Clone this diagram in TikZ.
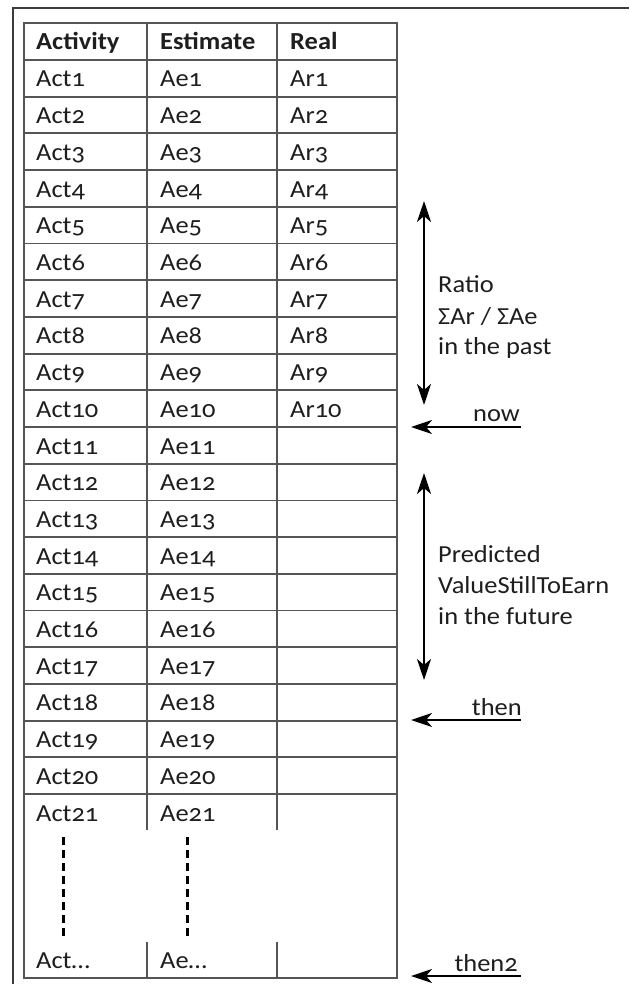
\documentclass[tikz,border=0pt]{standalone}
\usepackage{fontspec}
\setmainfont{Carlito}[Numbers=OldStyle, FakeStretch=1.08]
\usetikzlibrary{arrows.meta}
\definecolor{framegray}{HTML}{3C3C3C}
\definecolor{gridgray}{HTML}{555555}
\definecolor{textgray}{HTML}{1E1E1E}
\newcommand{\tabfont}{\fontsize{24.5}{30}\selectfont}
\tikzset{
  cell/.style={anchor=base west, inner sep=0pt, text=textgray, font=\tabfont},
  headcell/.style={cell, font=\tabfont\bfseries},
  note/.style={anchor=base west, inner sep=0pt, text=textgray, font=\tabfont, align=left},
  arrlabel/.style={anchor=base east, inner sep=0pt, text=textgray, font=\tabfont},
  gridline/.style={draw=gridgray, line width=1.8pt},
  framelines/.style={draw=framegray, line width=2.2pt},
  bigarrow/.style={draw=black, line width=2.6pt, -{Stealth[length=21pt,width=14pt,inset=6pt]}},
  dblarrow/.style={draw=black, line width=2.6pt, {Stealth[length=21pt,width=14pt,inset=6pt]}-{Stealth[length=21pt,width=14pt,inset=6pt]}},
  dotline/.style={draw=black, line width=3pt, dash pattern=on 8pt off 5pt}
}
\begin{document}
\begin{tikzpicture}[x=1pt,y=-1pt]
\useasboundingbox (0,0) rectangle (629,984);
\fill[white] (0,0) rectangle (629,984);
% outer frame (top and left edges visible)
\draw[framelines] (629,8) -- (13,8) -- (13,984);
% table grid
\draw[gridline] (24,23) rectangle (397,978);
\draw[gridline] (24,60) -- (397,60);
\foreach \k in {1,...,20} {
  \draw[gridline] (24,{60+\k*36.7}) -- (397,{60+\k*36.7});
}
\foreach \x in {147,277} {
  \draw[gridline] (\x,23) -- (\x,830);
  \draw[gridline] (\x,942) -- (\x,978);
}
% header
\node[headcell] (hA) at (36,50) {Activity};
\node[headcell] (hE) at (160,50) {Estimate};
\node[headcell] (hR) at (290,50) {Real};
% rows
\foreach \k in {1,...,21} {
  \node[cell] (act\k) at (36,{60+(\k-1)*36.7+27}) {Act\k};
  \node[cell] (ae\k) at (160,{60+(\k-1)*36.7+27}) {Ae\k};
}
\foreach \k in {1,...,10} {
  \node[cell] (ar\k) at (290,{60+(\k-1)*36.7+27}) {Ar\k};
}
\node[cell] (actdots) at (36,968) {Act…};
\node[cell] (aedots) at (160,968) {Ae…};
% dashed continuation
\coordinate (d1a) at (63,837); \coordinate (d1b) at (63,938);
\coordinate (d2a) at (187,837); \coordinate (d2b) at (187,938);
\draw[dotline] (d1a) -- (d1b);
\draw[dotline] (d2a) -- (d2b);
% range arrows
\coordinate (p1) at (424,201); \coordinate (p2) at (424,405);
\draw[dblarrow] (p1) -- (p2);
\coordinate (f1) at (424,473); \coordinate (f2) at (424,680);
\draw[dblarrow] (f1) -- (f2);
\node[note] (past1) at (438,292) {Ratio};
\node[note] (past2) at (438,324) {ΣAr / ΣAe};
\node[note] (past3) at (438,354) {in the past};
\node[note] (fut1) at (438,562) {Predicted};
\node[note] (fut2) at (438,593) {ValueStillToEarn};
\node[note] (fut3) at (438,624) {in the future};
% pointer arrows
\coordinate (nowS) at (521,427); \coordinate (nowE) at (411,427);
\draw[bigarrow] (nowS) -- (nowE);
\node[arrlabel] (now) at (520,421) {now};
\coordinate (thenS) at (521,720); \coordinate (thenE) at (411,720);
\draw[bigarrow] (thenS) -- (thenE);
\node[arrlabel] (then) at (522,715) {then};
\coordinate (then2S) at (521,976); \coordinate (then2E) at (411,976);
\draw[bigarrow] (then2S) -- (then2E);
\node[arrlabel] (then2) at (518,971) {then2};
\end{tikzpicture}
\end{document}
